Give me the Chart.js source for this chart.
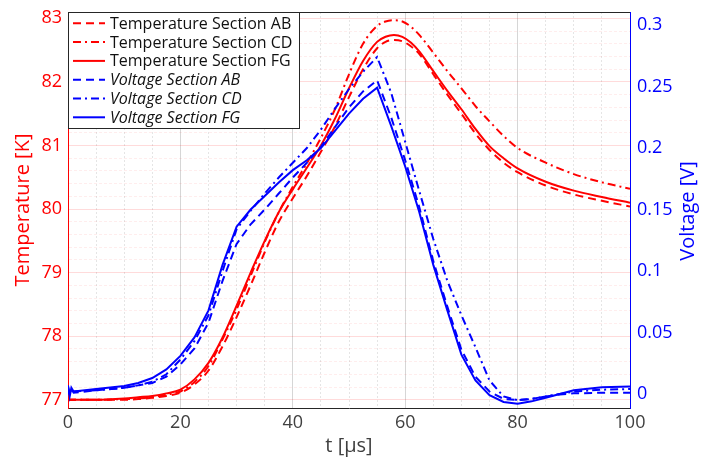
<!DOCTYPE html>
<html>
<head>
<meta charset="utf-8">
<script src="https://cdn.jsdelivr.net/npm/chart.js@4.4.0/dist/chart.umd.min.js"></script>
<style>
  html, body { margin: 0; padding: 0; background: #fff; }
  #wrap { width: 709px; height: 457px; position: relative; }
</style>
</head>
<body>
<div id="wrap"><canvas id="chart"></canvas></div>
<script>
// time axis for the temperature traces [µs]
const tTemp = [0, 5, 10, 12.5, 15, 17.5, 20, 22.5, 25, 27.5, 30, 32.5, 35, 37.5, 40, 42.5, 45, 47.5, 50, 52.5,
  55, 56.5, 58, 59.5, 61, 62.5, 65, 67.5, 70, 72.5, 75, 77.5, 80, 85, 90, 95, 100]
const tempAB = [77.0, 77.0, 77.0, 77.01, 77.03, 77.06, 77.11, 77.24, 77.46, 77.84, 78.3, 78.8, 79.32, 79.8, 80.17, 80.52, 80.9, 81.3, 81.76, 82.2,
  82.53, 82.63, 82.66, 82.64, 82.56, 82.44, 82.12, 81.8, 81.5, 81.19, 80.93, 80.73, 80.58, 80.37, 80.23, 80.13, 80.04]
const tempCD = [77.0, 77.0, 77.01, 77.02, 77.04, 77.08, 77.13, 77.28, 77.53, 77.95, 78.42, 78.95, 79.48, 79.95, 80.35, 80.72, 81.12, 81.57, 82.12, 82.6,
  82.88, 82.95, 82.97, 82.95, 82.87, 82.74, 82.46, 82.17, 81.9, 81.62, 81.38, 81.15, 80.96, 80.73, 80.55, 80.42, 80.32]
const tempFG = [77.0, 77.0, 77.02, 77.04, 77.06, 77.1, 77.16, 77.32, 77.58, 77.98, 78.48, 79.0, 79.5, 79.95, 80.31, 80.65, 81.0, 81.42, 81.9, 82.33,
  82.63, 82.71, 82.74, 82.71, 82.62, 82.48, 82.17, 81.86, 81.57, 81.26, 80.99, 80.8, 80.64, 80.43, 80.29, 80.19, 80.1]

// time axis for the voltage traces [µs]
const tVolt = [0, 0.3, 0.6, 1, 5, 10, 12.5, 15, 17.5, 20, 22.5, 25, 27.5, 30, 32.5, 35, 37.5, 40, 42.5, 45,
  47.5, 50, 52.5, 55, 57.5, 60, 62.5, 65, 67.5, 70, 72.5, 75, 77.5, 80, 82.5, 85, 87.5, 90, 95, 100]
const voltAB = [0.005, 0.0, 0.004, 0.001, 0.003, 0.005, 0.007, 0.009, 0.014, 0.024, 0.037, 0.058, 0.092, 0.122, 0.138, 0.15, 0.163, 0.176, 0.188, 0.201,
  0.217, 0.233, 0.246, 0.255, 0.225, 0.19, 0.152, 0.108, 0.071, 0.036, 0.014, 0.002, -0.004, -0.005, -0.004, -0.002, -0.0005, 0.0005, 0.001, 0.001]
const voltCD = [0.006, -0.001, 0.004, 0.002, 0.003, 0.005, 0.007, 0.01, 0.016, 0.028, 0.043, 0.064, 0.1, 0.134, 0.149, 0.163, 0.176, 0.188, 0.2, 0.215,
  0.232, 0.248, 0.262, 0.274, 0.245, 0.205, 0.165, 0.126, 0.092, 0.064, 0.038, 0.011, -0.002, -0.005, -0.004, -0.002, 0.0, 0.002, 0.0035, 0.004]
const voltFG = [0.007, -0.002, 0.005, 0.002, 0.004, 0.0065, 0.009, 0.013, 0.02, 0.031, 0.046, 0.068, 0.105, 0.136, 0.15, 0.161, 0.172, 0.182, 0.19, 0.2,
  0.214, 0.228, 0.24, 0.249, 0.218, 0.185, 0.148, 0.105, 0.068, 0.032, 0.011, -0.001, -0.0065, -0.008, -0.006, -0.003, 0.0, 0.003, 0.0055, 0.006]

const xLabels = [0, 20, 40, 60, 80, 100]
const tempLabels = [77, 78, 79, 80, 81, 82, 83]
const voltLabels = [0, 0.05, 0.1, 0.15, 0.2, 0.25, 0.3]

const RED = '#ff0000'
const BLUE = '#0000ff'
const INK = '#262626'
const FONT = '"Open Sans", sans-serif'

const pts = (xs, ys) => xs.map((x, i) => ({ x, y: ys[i] }))
const near = (v, list, eps) => list.some(l => Math.abs(l - v) < eps)

function line(label, xs, ys, color, dash, axis, italic) {
  return {
    label, data: pts(xs, ys), yAxisID: axis,
    borderColor: color, borderWidth: 2, borderDash: dash,
    pointRadius: 0, fill: false,
    cubicInterpolationMode: axis === 'yT' ? 'monotone' : 'default', tension: 0,
    order: axis === 'yT' ? 1 : 0, italic,
  }
}

const DASH = [8, 5]
const DASHDOT = [8, 4, 2, 4]

// legend drawn as a framed box inside the plot, like the original
const boxLegend = {
  id: 'boxLegend',
  afterDraw(chart) {
    const ctx = chart.ctx
    const a = chart.chartArea
    const x0 = a.left, y0 = a.top, w = 231, h = 116
    ctx.save()
    ctx.fillStyle = '#fff'
    ctx.fillRect(x0, y0, w, h)
    ctx.strokeStyle = INK
    ctx.lineWidth = 1
    ctx.strokeRect(x0 + 0.5, y0 + 0.5, w, h)
    chart.data.datasets.forEach((ds, i) => {
      const y = y0 + 11.3 + i * 18.8
      ctx.strokeStyle = ds.borderColor
      ctx.lineWidth = 2
      ctx.setLineDash(ds.borderDash || [])
      ctx.beginPath()
      ctx.moveTo(x0 + 5, y)
      ctx.lineTo(x0 + 37, y)
      ctx.stroke()
      ctx.setLineDash([])
      ctx.fillStyle = '#111'
      ctx.font = (ds.italic ? 'italic ' : '') + '16px ' + FONT
      ctx.textBaseline = 'middle'
      ctx.fillText(ds.label, x0 + 42, y + 1)
    })
    // right axis title, reads bottom-to-top
    ctx.translate(688, 211)
    ctx.rotate(-Math.PI / 2)
    ctx.fillStyle = BLUE
    ctx.font = '20px ' + FONT
    ctx.textAlign = 'center'
    ctx.textBaseline = 'middle'
    ctx.fillText('Voltage [V]', 0, 0)
    ctx.restore()
  }
}

new Chart(document.getElementById('chart'), {
  type: 'line',
  data: {
    datasets: [
      line('Temperature Section AB', tTemp, tempAB, RED, DASH, 'yT', false),
      line('Temperature Section CD', tTemp, tempCD, RED, DASHDOT, 'yT', false),
      line('Temperature Section FG', tTemp, tempFG, RED, [], 'yT', false),
      line('Voltage Section AB', tVolt, voltAB, BLUE, DASH, 'yV', true),
      line('Voltage Section CD', tVolt, voltCD, BLUE, DASHDOT, 'yV', true),
      line('Voltage Section FG', tVolt, voltFG, BLUE, [], 'yV', true),
    ]
  },
  options: {
    responsive: true, maintainAspectRatio: false, animation: false,
    layout: { padding: 0 },
    plugins: { legend: { display: false }, tooltip: { enabled: false } },
    scales: {
      x: {
        type: 'linear', position: 'bottom', min: 0, max: 100,
        afterFit: s => { s.height = 49 },
        ticks: {
          stepSize: 5, autoSkip: false, maxRotation: 0, padding: 4,
          color: '#404040', font: { family: FONT, size: 18 },
          callback: v => near(v, xLabels, 1e-6) ? String(v) : ''
        },
        grid: {
          drawTicks: false,
          color: c => c.tick && near(c.tick.value, xLabels, 1e-6) ? 'rgba(0,0,0,0.16)' : 'rgba(0,0,0,0.10)'
        },
        border: {
          color: INK, width: 1,
          dash: c => c.tick && !near(c.tick.value, xLabels, 1e-6) ? [2, 2] : []
        },
        title: {
          display: true, text: 't [\u03bcs]', color: '#404040',
          font: { family: FONT, size: 20, lineHeight: 1.1 }, padding: { top: 0, bottom: 0 }
        }
      },
      xTop: {
        type: 'linear', position: 'top', min: 0, max: 100,
        afterFit: s => { s.height = 12 },
        ticks: { display: false },
        grid: { display: false, drawTicks: false },
        border: { color: INK, width: 1 }
      },
      yT: {
        type: 'linear', position: 'left', min: 76.87, max: 83.1,
        afterFit: s => { s.width = 68 },
        // majors from tempLabels, four minor grid lines in between
        afterBuildTicks: s => {
          const ticks = []
          tempLabels.forEach((v, i) => {
            ticks.push({ value: v })
            if (i < tempLabels.length - 1) for (let k = 1; k < 5; k++) ticks.push({ value: v + k * 0.2 })
          })
          s.ticks = ticks
        },
        ticks: {
          autoSkip: false, padding: 6,
          color: RED, font: { family: FONT, size: 18, lineHeight: 0.5 },
          callback: v => near(v, tempLabels, 1e-6) ? String(Math.round(v)) : ''
        },
        grid: {
          drawTicks: false,
          color: c => c.tick && near(c.tick.value, tempLabels, 1e-6) ? 'rgba(255,0,0,0.14)' : 'rgba(255,0,0,0.07)'
        },
        border: {
          color: RED, width: 1,
          dash: c => c.tick && !near(c.tick.value, tempLabels, 1e-6) ? [3, 2] : []
        },
        title: {
          display: true, text: 'Temperature [K]', color: RED,
          font: { family: FONT, size: 20 }, padding: { top: 11, bottom: 0 }
        }
      },
      yV: {
        type: 'linear', position: 'right', min: -0.0114, max: 0.3106,
        afterFit: s => { s.width = 79 },
        afterBuildTicks: s => { s.ticks = voltLabels.map(v => ({ value: v })) },
        ticks: {
          autoSkip: false, padding: 7,
          color: BLUE, font: { family: FONT, size: 18, lineHeight: 0.5 },
          callback: v => String(+v.toFixed(2))
        },
        grid: { display: false, drawTicks: false },
        border: { color: BLUE, width: 1 }
      }
    }
  },
  plugins: [boxLegend]
})
</script>
</body>
</html>
